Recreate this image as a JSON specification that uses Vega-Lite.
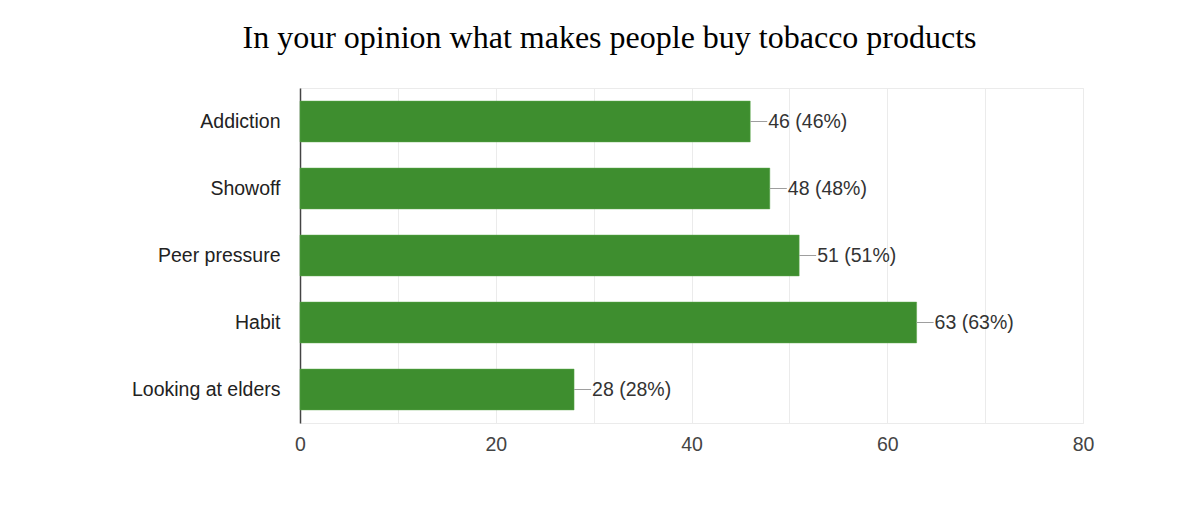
{
  "$schema": "https://vega.github.io/schema/vega-lite/v6.json",
  "width": 783,
  "height": 335,
  "autosize": {"type": "none"},
  "padding": {"left": 300, "top": 88, "right": 115, "bottom": 101},
  "background": "white",
  "title": {
    "text": "In your opinion what makes people buy tobacco products",
    "font": "Liberation Serif",
    "fontSize": 32,
    "fontWeight": "normal",
    "color": "#000000",
    "anchor": "middle",
    "dx": -82,
    "baseline": "alphabetic",
    "offset": 8
  },
  "data": {
    "values": [
      {"reason": "Addiction", "count": 46, "label": "46 (46%)"},
      {"reason": "Showoff", "count": 48, "label": "48 (48%)"},
      {"reason": "Peer pressure", "count": 51, "label": "51 (51%)"},
      {"reason": "Habit", "count": 63, "label": "63 (63%)"},
      {"reason": "Looking at elders", "count": 28, "label": "28 (28%)"}
    ]
  },
  "encoding": {
    "y": {
      "field": "reason",
      "type": "nominal",
      "sort": null,
      "title": null,
      "scale": {"paddingInner": 0.39, "paddingOuter": 0.195},
      "axis": {
        "ticks": false,
        "grid": false,
        "labelFont": "Liberation Sans",
        "labelFontSize": 19.5,
        "labelColor": "#222222",
        "labelPadding": 20,
        "domainColor": "#444444",
        "domainWidth": 1.5
      }
    },
    "x": {
      "field": "count",
      "type": "quantitative",
      "title": null,
      "scale": {"domain": [0, 80], "nice": false},
      "axis": {
        "values": [0, 10, 20, 30, 40, 50, 60, 70, 80],
        "labelExpr": "datum.value % 20 === 0 ? datum.label : ''",
        "labelFlush": false,
        "ticks": false,
        "domain": false,
        "grid": true,
        "gridColor": "#ebebeb",
        "gridWidth": 1,
        "labelFont": "Liberation Sans",
        "labelFontSize": 19.5,
        "labelColor": "#444444",
        "labelPadding": 12
      }
    }
  },
  "layer": [
    {
      "mark": {"type": "bar", "color": "#3e8e2f", "stroke": "#5aa64a", "strokeWidth": 0.5}
    },
    {
      "mark": {"type": "rule", "color": "#9e9e9e", "strokeWidth": 1, "x2Offset": 17},
      "encoding": {
        "x2": {"field": "count"}
      }
    },
    {
      "mark": {
        "type": "text",
        "align": "left",
        "baseline": "middle",
        "dx": 18,
        "font": "Liberation Sans",
        "fontSize": 19.5,
        "color": "#333333"
      },
      "encoding": {
        "text": {"field": "label"}
      }
    }
  ],
  "config": {
    "view": {"stroke": "#ebebeb", "strokeWidth": 1}
  }
}
